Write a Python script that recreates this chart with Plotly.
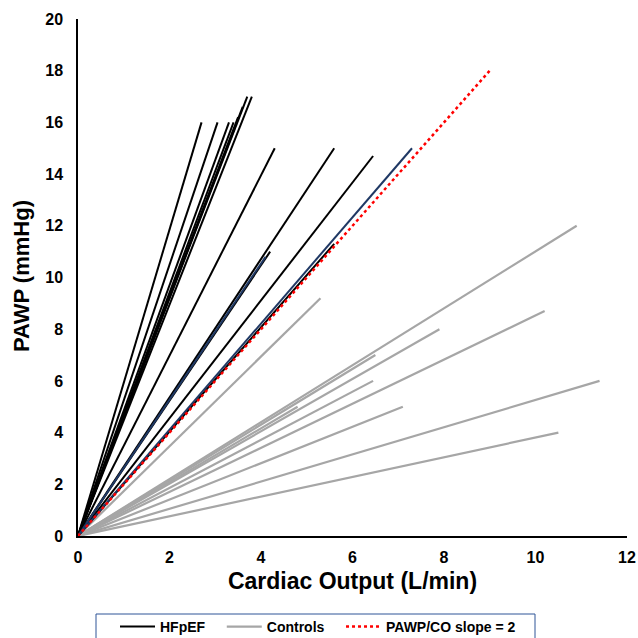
import plotly.graph_objects as go

# HFpEF patients: end-point (Cardiac Output, PAWP) of each line from origin
hfpef_co = [2.7, 3.05, 3.3, 3.4, 3.5, 3.6, 3.7, 3.8, 4.3, 5.6, 6.45, 4.2, 5.6]
hfpef_pawp = [16.0, 16.0, 16.0, 16.0, 16.2, 16.6, 17.0, 17.0, 15.0, 15.0, 14.7, 11.0, 11.3]
# HFpEF lines drawn in dark blue
hfpef_blue_co = [4.1, 7.3]
hfpef_blue_pawp = [10.8, 15.0]

# Controls
controls_co = [5.3, 10.9, 6.5, 7.9, 6.45, 4.8, 10.2, 7.1, 11.4, 10.5]
controls_pawp = [9.2, 12.0, 7.0, 8.0, 6.0, 5.0, 8.7, 5.0, 6.0, 4.0]

# Reference line PAWP/CO slope = 2
ref_co = [0, 9.0]
ref_pawp = [0, 18.0]

x_ticks = [0, 2, 4, 6, 8, 10, 12]
y_ticks = [0, 2, 4, 6, 8, 10, 12, 14, 16, 18, 20]

BLACK = "#000000"
GRAY = "#A6A6A6"
NAVY = "#1F3864"
RED = "#FF0000"

fig = go.Figure()

for c, p in zip(controls_co, controls_pawp):
    fig.add_trace(go.Scatter(x=[0, c], y=[0, p], mode="lines",
                             line=dict(color=GRAY, width=2.2),
                             name="Controls", showlegend=False, hoverinfo="skip"))

for c, p in zip(hfpef_co, hfpef_pawp):
    fig.add_trace(go.Scatter(x=[0, c], y=[0, p], mode="lines",
                             line=dict(color=BLACK, width=2),
                             name="HFpEF", showlegend=False, hoverinfo="skip"))

for c, p in zip(hfpef_blue_co, hfpef_blue_pawp):
    fig.add_trace(go.Scatter(x=[0, c], y=[0, p], mode="lines",
                             line=dict(color=NAVY, width=2),
                             name="HFpEF", showlegend=False, hoverinfo="skip"))

fig.add_trace(go.Scatter(x=ref_co, y=ref_pawp, mode="lines",
                         line=dict(color=RED, width=2.5, dash="dot"),
                         name="PAWP/CO slope = 2", showlegend=False,
                         hoverinfo="skip"))

NB = "\u00a0"
# legend entries (order)
fig.add_trace(go.Scatter(x=[None], y=[None], mode="lines",
                         line=dict(color=BLACK, width=2), name="HFpEF" + NB * 3))
fig.add_trace(go.Scatter(x=[None], y=[None], mode="lines",
                         line=dict(color=GRAY, width=2.2), name="Controls" + NB * 3))
fig.add_trace(go.Scatter(x=[None], y=[None], mode="lines",
                         line=dict(color=RED, width=2.5, dash="dot"),
                         name="PAWP/CO slope = 2"))

font_family = "Liberation Sans, Arial, sans-serif"

# legend frame (pixel positions converted to paper coords of the 549x517 plot area)
fig.add_shape(type="rect", xref="paper", yref="paper",
              x0=(96 - 78) / 549, x1=(535 - 78) / 549,
              y0=(536 - 614) / 517, y1=(536 - 660) / 517,
              line=dict(color="#2F5597", width=1), fillcolor="rgba(0,0,0,0)",
              layer="above")

# y-axis title as a rotated annotation for exact placement
fig.add_annotation(text="<b>PAWP (mmHg)</b>", textangle=-90,
                   xref="paper", yref="paper", x=(21 - 78) / 549, y=(536 - 276) / 517,
                   xanchor="center", yanchor="middle", showarrow=False,
                   font=dict(size=22, family=font_family, color="black"))

fig.update_layout(
    width=638, height=638,
    margin=dict(l=78, r=11, t=19, b=102, autoexpand=False),
    paper_bgcolor="white", plot_bgcolor="white",
    font=dict(family=font_family, color="black", size=14),
    showlegend=True,
    legend=dict(orientation="h", x=(115 - 78) / 549, xanchor="left",
                y=(536 - 627) / 517, yanchor="middle",
                borderwidth=0, bgcolor="rgba(0,0,0,0)",
                font=dict(size=14, family=font_family, weight="bold"),
                traceorder="normal", itemwidth=35),
    xaxis=dict(range=[0, 12], tickvals=x_ticks,
               ticktext=["<b>%g</b>" % v for v in x_ticks],
               showgrid=False, zeroline=False, automargin=False,
               showline=True, linecolor="black", linewidth=1.5, ticks="",
               tickfont=dict(size=16), ticklabelstandoff=6,
               title=dict(text="<b>Cardiac Output (L/min)</b>", font=dict(size=23),
                          standoff=8)),
    yaxis=dict(range=[0, 20], tickvals=y_ticks,
               ticktext=["<b>%g</b>" % v for v in y_ticks],
               showgrid=False, zeroline=False, automargin=False,
               showline=True, linecolor="black", linewidth=1.5, ticks="",
               tickfont=dict(size=16), ticklabelstandoff=10),
)

fig.write_html("out.html", config={"displayModeBar": False},
               post_script="document.body.style.margin='0';document.body.style.overflow='hidden';")
